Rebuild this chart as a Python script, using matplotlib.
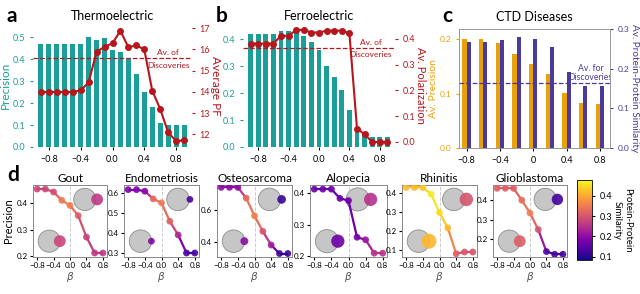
import matplotlib
matplotlib.use("Agg")
import matplotlib.pyplot as plt
from matplotlib.patches import Ellipse
from matplotlib.collections import LineCollection
from matplotlib import colors, cm

plt.rcParams['font.family'] = ['Lato', 'DejaVu Sans']

TEAL = '#1a9e97'
RED = '#b7161d'
ORANGE = '#e8a10a'
PURPLE = '#4b3a9c'

# ---- panels a, b: 19 beta values
beta_bar = [-0.9, -0.8, -0.7, -0.6, -0.5, -0.4, -0.3, -0.2, -0.1, 0.0,
            0.1, 0.2, 0.3, 0.4, 0.5, 0.6, 0.7, 0.8, 0.9]
thermo_prec = [0.47, 0.47, 0.47, 0.47, 0.47, 0.47, 0.50, 0.485, 0.494, 0.443,
               0.432, 0.40, 0.334, 0.252, 0.181, 0.11, 0.10, 0.10, 0.10]
thermo_pf = [14.0, 14.0, 14.0, 14.0, 14.0, 14.08, 14.45, 15.9, 16.12, 16.3,
             16.88, 16.1, 16.2, 16.0, 14.06, 13.2, 12.1, 11.69, 11.73]
thermo_disc = 15.62

ferro_prec = [0.42, 0.42, 0.42, 0.42, 0.431, 0.43, 0.436, 0.411, 0.391, 0.359,
              0.30, 0.26, 0.21, 0.139, 0.064, 0.05, 0.037, 0.037, 0.037]
ferro_pol = [0.382, 0.382, 0.382, 0.382, 0.412, 0.412, 0.435, 0.435, 0.425, 0.425,
             0.432, 0.432, 0.432, 0.422, 0.052, 0.03, 0.0, 0.0, 0.0]
ferro_disc = 0.364

# ---- panel c
beta_ctd = [-0.8, -0.6, -0.4, -0.2, 0.0, 0.2, 0.4, 0.6, 0.8]
ctd_prec = [0.2, 0.2, 0.193, 0.173, 0.155, 0.136, 0.1015, 0.082, 0.0815]
ctd_sim = [0.267, 0.267, 0.2725, 0.28, 0.276, 0.254, 0.1925, 0.1575, 0.1575]
ctd_disc = 0.164

# ---- panel d
beta_d = [-0.8, -0.6, -0.4, -0.2, 0.0, 0.2, 0.4, 0.6, 0.8]
diseases = ['Gout', 'Endometriosis', 'Osteosarcoma', 'Alopecia', 'Rhinitis', 'Glioblastoma']
prec_d = [
    [0.451, 0.451, 0.44, 0.409, 0.39, 0.352, 0.272, 0.213, 0.213],
    [0.616, 0.616, 0.608, 0.57, 0.55, 0.458, 0.39, 0.30, 0.30],
    [0.744, 0.744, 0.744, 0.676, 0.563, 0.465, 0.378, 0.324, 0.324],
    [0.411, 0.411, 0.411, 0.382, 0.375, 0.26, 0.252, 0.21, 0.21],
    [0.428, 0.428, 0.428, 0.393, 0.297, 0.216, 0.081, 0.09, 0.09],
    [0.461, 0.461, 0.461, 0.40, 0.334, 0.249, 0.136, 0.122, 0.122],
]
sim_d = [
    [0.28, 0.28, 0.29, 0.345, 0.35, 0.31, 0.275, 0.26, 0.26],
    [0.185, 0.185, 0.19, 0.325, 0.35, 0.315, 0.24, 0.13, 0.13],
    [0.2, 0.2, 0.2, 0.325, 0.355, 0.30, 0.22, 0.115, 0.115],
    [0.165, 0.165, 0.165, 0.165, 0.165, 0.17, 0.21, 0.25, 0.25],
    [0.415, 0.415, 0.43, 0.465, 0.45, 0.415, 0.31, 0.30, 0.30],
    [0.31, 0.31, 0.31, 0.33, 0.35, 0.30, 0.14, 0.125, 0.125],
]
ylims_d = [(0.198, 0.466), (0.28, 0.639), (0.302, 0.759),
           (0.198, 0.424), (0.064, 0.441), (0.108, 0.478)]
yticks_d = [[0.2, 0.3, 0.4], [0.3, 0.4, 0.5, 0.6], [0.4, 0.6],
            [0.2, 0.3, 0.4], [0.1, 0.2, 0.3, 0.4], [0.2, 0.3, 0.4]]
# small circle radius (high beta / low beta), relative to axes width
venn_r_hi = [0.08, 0.045, 0.058, 0.086, 0.09, 0.077]
venn_r_lo = [0.08, 0.045, 0.053, 0.086, 0.10, 0.08]
venn_x_hi = [0.70, 0.72, 0.70, 0.62, 0.69, 0.705]

W, H = 640, 294
fig = plt.figure(figsize=(6.4, 2.94), dpi=100)


def px_axes(l, t, r, b):
    return fig.add_axes([l / W, 1 - b / H, (r - l) / W, (b - t) / H])


def bar_line_panel(box, prec, other, disc, ylim_l, ylim_r, title, rlabel, rticks, rfmt, txt_pos, rpad, rsize):
    ax = px_axes(*box)
    ax.bar(beta_bar, prec, width=0.062, color=TEAL)
    ax.set_xlim(-1.0, 1.0)
    ax.set_ylim(*ylim_l)
    ax.set_xticks([-0.8, -0.4, 0.0, 0.4, 0.8])
    ax.set_xticklabels(['\u22120.8', '\u22120.4', '0.0', '0.4', '0.8'])
    ax.tick_params(axis='y', colors=TEAL, labelsize=6.5, length=2)
    ax.tick_params(axis='x', labelsize=6.5, length=2)
    for s in ax.spines.values():
        s.set_visible(False)
    ax.set_title(title, fontsize=9, pad=3)
    ax2 = ax.twinx()
    ax2.plot(beta_bar, other, '-o', color=RED, lw=1.5, ms=4)
    ax2.axhline(disc, ls='--', color=RED, lw=0.9)
    ax2.set_ylim(*ylim_r)
    ax2.set_yticks(rticks)
    ax2.set_yticklabels([rfmt.format(v) for v in rticks])
    ax2.tick_params(axis='y', colors=RED, labelsize=6.5, length=2)
    for s in ax2.spines.values():
        s.set_visible(False)
    ax2.set_ylabel(rlabel, color=RED, fontsize=rsize, rotation=270, labelpad=rpad)
    ax2.text(txt_pos[0], txt_pos[1], 'Av. of', transform=ax2.transAxes, color=RED,
             fontsize=6, ha='center', va='center')
    ax2.text(txt_pos[0], txt_pos[2], 'Discoveries', transform=ax2.transAxes, color=RED,
             fontsize=6, ha='center', va='center')
    return ax, ax2


# panel a
axa, axa2 = bar_line_panel((33, 24, 192, 147), thermo_prec, thermo_pf, thermo_disc,
                           (0, 0.56), (11.41, 17.2), 'Thermoelectric', 'Average PF',
                           [12, 13, 14, 15, 16, 17], '{:.0f}', (0.85, 0.772, 0.659), 8, 8.5)
axa.set_yticks([0.0, 0.1, 0.2, 0.3, 0.4, 0.5])
axa.set_ylabel('Precision', color=TEAL, fontsize=8.5, labelpad=1)

# panel b
axb, axb2 = bar_line_panel((243, 24, 395, 147), ferro_prec, ferro_pol, ferro_disc,
                           (0, 0.456), (-0.0195, 0.458), 'Ferroelectric', 'Av. Polarization',
                           [0.0, 0.1, 0.2, 0.3, 0.4], '{:.1f}', (0.84, 0.848, 0.748), 8, 8)
axb.set_yticks([0.0, 0.1, 0.2, 0.3, 0.4])

# panel c
axc = px_axes(459, 29, 610, 148)
bw = 0.05
axc.bar([b - bw / 2 for b in beta_ctd], ctd_prec, width=bw, color=ORANGE)
axc.set_xlim(-0.89, 0.92)
axc.set_ylim(0, 0.219)
axc.set_yticks([0.0, 0.1, 0.2])
axc.set_xticks([-0.8, -0.4, 0.0, 0.4, 0.8])
axc.set_xticklabels(['\u22120.8', '\u22120.4', '0', '0.4', '0.8'])
axc.tick_params(axis='y', colors=ORANGE, labelsize=6, length=2)
axc.tick_params(axis='x', labelsize=6.5, length=2)
axc.set_ylabel('Av. Precision', color=ORANGE, fontsize=7.5, labelpad=1)
axc.set_title('CTD Diseases', fontsize=9, pad=6)
axc2 = axc.twinx()
axc2.bar([b + bw / 2 for b in beta_ctd], ctd_sim, width=bw, color=PURPLE)
axc2.axhline(ctd_disc, ls='--', color=PURPLE, lw=0.9)
axc2.set_ylim(0, 0.3)
axc2.set_yticks([0.0, 0.1, 0.2, 0.3])
axc2.tick_params(axis='y', colors=PURPLE, labelsize=6, length=2)
axc2.set_ylabel('Av. Protein-Protein Similarity', color=PURPLE, fontsize=7.2, rotation=270, labelpad=7)
for ax_ in (axc, axc2):
    for s in ax_.spines.values():
        s.set_color('#999999')
        s.set_linewidth(0.6)
axc2.text(0.87, 0.67, 'Av. for', transform=axc2.transAxes, color=PURPLE,
          fontsize=6.2, ha='center', va='center')
axc2.text(0.87, 0.594, 'Discoveries', transform=axc2.transAxes, color=PURPLE,
          fontsize=6.2, ha='center', va='center', clip_on=True)

# panel d
norm = colors.Normalize(vmin=0.084, vmax=0.477)
cmap = plt.get_cmap('plasma')
boxes_d = [(33, 185, 107, 257), (124, 185, 199, 257), (217, 185, 292, 257),
           (310, 185, 387, 257), (402, 185, 477, 257), (493, 185, 567, 257)]
for i, name in enumerate(diseases):
    l, t, r, b = boxes_d[i]
    ax = px_axes(l, t, r, b)
    aspect = (r - l) / (b - t)
    ys = prec_d[i]
    ss = sim_d[i]
    segs = [[(beta_d[k], ys[k]), (beta_d[k + 1], ys[k + 1])] for k in range(len(ys) - 1)]
    segc = [cmap(norm((ss[k] + ss[k + 1]) / 2)) for k in range(len(ys) - 1)]
    ax.add_collection(LineCollection(segs, colors=segc, linewidths=1.6, zorder=3))
    ax.scatter(beta_d, ys, c=[cmap(norm(v)) for v in ss], s=24, zorder=4, alpha=0.9,
               edgecolors='none')
    ax.axvline(0, color='#cccccc', ls='--', lw=0.7, zorder=1)
    ax.set_xlim(-0.9, 0.9)
    ax.set_ylim(*ylims_d[i])
    ax.set_yticks(yticks_d[i])
    ax.set_xticks([-0.8, -0.4, 0.0, 0.4, 0.8])
    ax.set_xticklabels(['\u22120.8', '\u22120.4', '0.0', '0.4', '0.8'])
    ax.tick_params(labelsize=5.8, length=2, pad=1.5)
    for s in ax.spines.values():
        s.set_color('#888888')
        s.set_linewidth(0.7)
    ax.set_title(name, fontsize=8.5, pad=2)
    ax.set_xlabel(r'$\beta$', fontsize=7.5, color='#555555', labelpad=1)
    g = 0.15
    # top-right venn (high beta)
    cx, cy = venn_x_hi[i], 0.80
    ax.add_patch(Ellipse((cx, cy), 2 * g, 2 * g * aspect, transform=ax.transAxes,
                         facecolor='#c6c6c6', edgecolor='#8c8c8c', lw=0.6, zorder=2))
    rh = venn_r_hi[i]
    ax.add_patch(Ellipse((cx + g + rh * 0.2, cy), 2 * rh, 2 * rh * aspect, transform=ax.transAxes,
                         facecolor=cmap(norm(ss[-1])), edgecolor='none', alpha=0.9, zorder=2))
    # bottom-left venn (low beta)
    cx, cy = 0.22, 0.22
    ax.add_patch(Ellipse((cx, cy), 2 * g, 2 * g * aspect, transform=ax.transAxes,
                         facecolor='#c6c6c6', edgecolor='#8c8c8c', lw=0.6, zorder=2))
    rl = venn_r_lo[i]
    ax.add_patch(Ellipse((cx + g - rl * 0.1, cy), 2 * rl, 2 * rl * aspect, transform=ax.transAxes,
                         facecolor=cmap(norm(ss[0])), edgecolor='none', alpha=0.9, zorder=2))
    if i == 0:
        ax.set_ylabel('Precision', fontsize=8, labelpad=2)

cax = px_axes(577, 180, 592, 260)
cb = fig.colorbar(cm.ScalarMappable(norm=norm, cmap=cmap), cax=cax)
cb.set_ticks([0.1, 0.2, 0.3, 0.4])
cb.ax.tick_params(labelsize=6.5, length=2)
cb.outline.set_linewidth(0.6)
cb.set_label('Protein-Protein\nSimilarity', rotation=270, fontsize=6.8, labelpad=14)

# panel letters
for lbl, x, y in [('a', 12, 16), ('b', 222, 16), ('c', 447, 16), ('d', 13, 175)]:
    fig.text(x / W, 1 - y / H, lbl, fontsize=15, fontweight='bold', ha='center', va='center')

fig.savefig('out.png', dpi=100)
